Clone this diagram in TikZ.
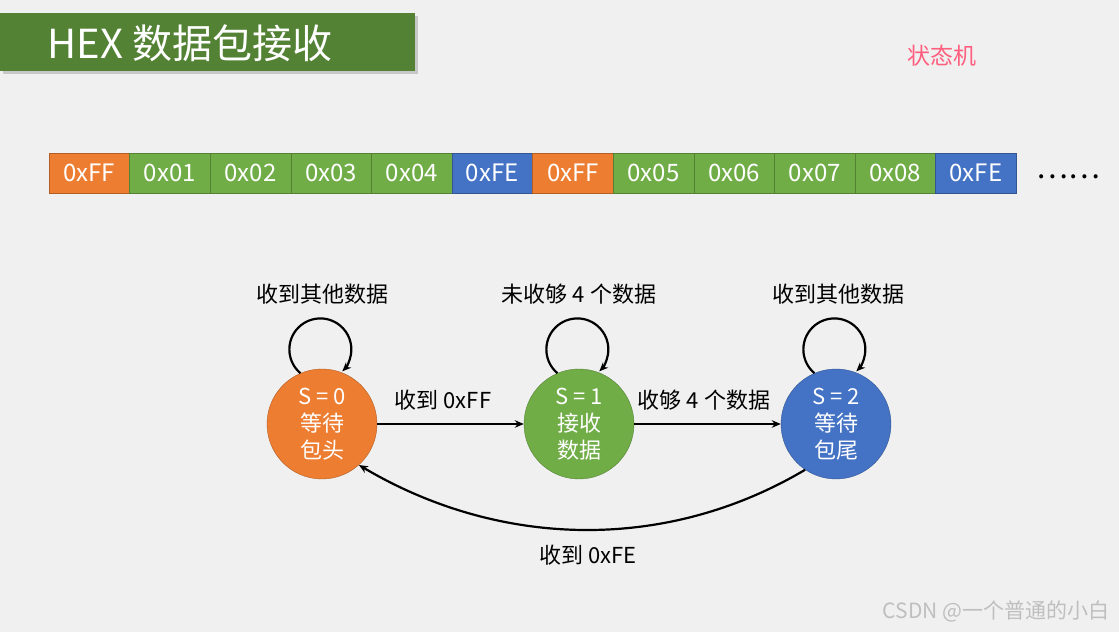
\documentclass[tikz,border=0pt]{standalone}
\usepackage{fontspec}
\setmainfont{Noto Sans CJK SC}
\usetikzlibrary{arrows.meta}
\definecolor{bg}{HTML}{F0F0F0}
\definecolor{hexorange}{HTML}{ED7D31}
\definecolor{hexgreen}{HTML}{70AD47}
\definecolor{hexblue}{HTML}{4472C4}
\definecolor{bannergreen}{HTML}{548235}
\definecolor{statepink}{HTML}{FF5F7E}
\begin{document}
\begin{tikzpicture}[x=1pt,y=1pt,>={Stealth[length=9pt,width=7.5pt]},
  byte/.style={draw=#1!75!black,fill=#1,text=white,minimum width=80.6pt,minimum height=40pt,inner sep=0pt,font=\fontsize{24}{24}\selectfont},
  state/.style={circle,draw=#1!75!black,fill=#1,text=white,minimum size=110pt,inner sep=0pt,align=center,font=\fontsize{22}{27}\selectfont},
  lbl/.style={font=\fontsize{22}{22}\selectfont},
  link/.style={line width=2.2pt,->}]
\useasboundingbox (0,0) rectangle (1119,632);
\fill[bg] (0,0) rectangle (1119,632);
% title bar
\fill[black!22] (3,558) rectangle (418,616);
\fill[bannergreen] (0,561) rectangle (415,619);
\node[anchor=west,text=white,font=\fontsize{40}{40}\selectfont] (title) at (44,589) {HEX 数据包接收};
\node[text=statepink,font=\fontsize{23}{23}\selectfont] (fsm) at (942,576) {状态机};
% byte stream
\foreach \i/\t/\c in {1/0xFF/hexorange,2/0x01/hexgreen,3/0x02/hexgreen,4/0x03/hexgreen,
  5/0x04/hexgreen,6/0xFE/hexblue,7/0xFF/hexorange,8/0x05/hexgreen,9/0x06/hexgreen,
  10/0x07/hexgreen,11/0x08/hexgreen,12/0xFE/hexblue}
  \node[byte=\c] (b\i) at ({49+80.6*(\i-0.5)},459) {\t};
\node[font=\fontsize{30}{30}\selectfont] (more) at (1068,455) {……};
% states
\node[state=hexorange] (s0) at (322,208) {S = 0\\等待\\包头};
\node[state=hexgreen] (s1) at (579,208) {S = 1\\接收\\数据};
\node[state=hexblue] (s2) at (836,208) {S = 2\\等待\\包尾};
% self loops
\node[lbl] (l0) at (322,338) {收到其他数据};
\node[lbl] (l1) at (579,338) {未收够 4 个数据};
\node[lbl] (l2) at (838,338) {收到其他数据};
\draw[link] (s0.113) arc[start angle=230,end angle=-45,radius=31];
\draw[link] (s1.113) arc[start angle=230,end angle=-45,radius=31];
\draw[link] (s2.113) arc[start angle=230,end angle=-45,radius=31];
% transitions
\draw[link] (s0) -- (s1);
\node[lbl] (e01) at (443,232) {收到 0xFF};
\draw[link] (s1) -- (s2);
\node[lbl] (e12) at (704,232) {收够 4 个数据};
\draw[link] (s2.236) .. controls +(-140,-83) and +(140,-83) .. (s0.-48);
\node[lbl] (e20) at (588,77) {收到 0xFE};
\node[text=black!25,font=\fontsize{21}{21}\selectfont] (mark) at (996,21) {CSDN @一个普通的小白};
\end{tikzpicture}
\end{document}
